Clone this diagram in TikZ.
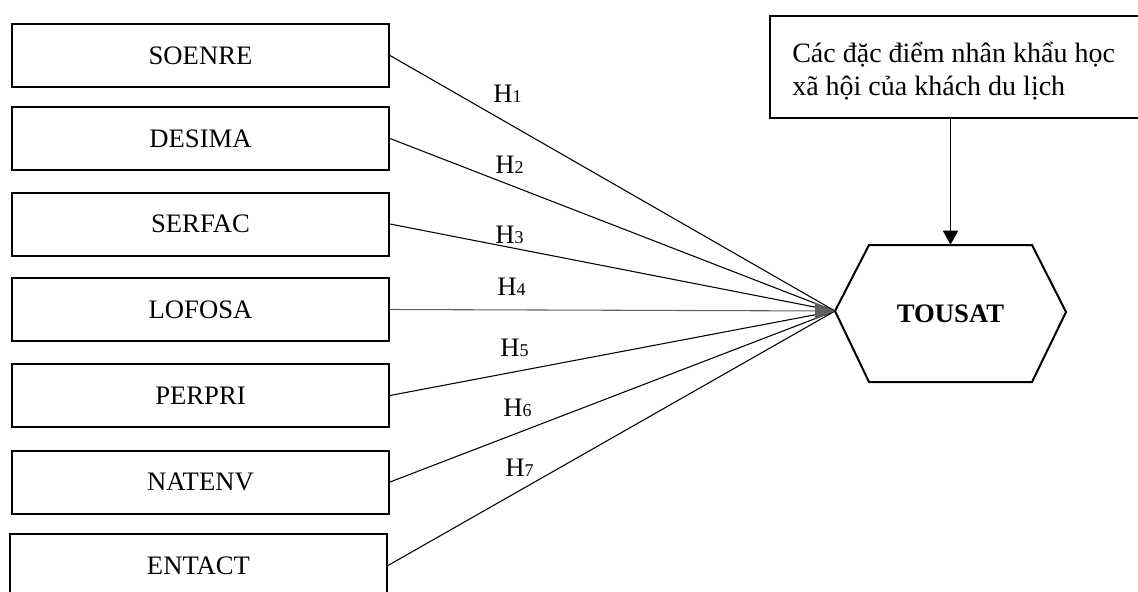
\documentclass[tikz,border=0pt]{standalone}
\usepackage{fontspec}
\setmainfont{Liberation Serif}
\usetikzlibrary{arrows.meta}
\definecolor{tipgray}{RGB}{95,95,95}
\tikzset{
  varbox/.style={draw, line width=1.5pt, minimum width=282.75pt, minimum height=47.25pt,
    inner sep=0pt, font=\fontsize{20pt}{24pt}\selectfont},
  conn/.style={line width=0.8pt},
  hlabel/.style={anchor=base west, inner sep=0pt, font=\fontsize{20pt}{24pt}\selectfont},
  demoline/.style={anchor=base west, inner sep=0pt, font=\fontsize{21pt}{24pt}\selectfont},
}
\newcommand{\hyp}[1]{H{\fontsize{13.5pt}{14pt}\selectfont #1}}
\begin{document}
\begin{tikzpicture}[x=0.75pt, y=-0.75pt]
\useasboundingbox (0,0) rectangle (1138,592);
\clip (0,0) rectangle (1138,592);
% left boxes
\node[varbox] (soenre) at (200.5,55.5) {SOENRE};
\node[varbox] (desima) at (200.5,138.5) {DESIMA};
\node[varbox] (serfac) at (200.5,224) {SERFAC};
\node[varbox] (lofosa) at (200.5,309.5) {LOFOSA};
\node[varbox] (perpri) at (200.5,395.5) {PERPRI};
\node[varbox] (natenv) at (200.5,482) {NATENV};
\node[varbox] (entact) at (198.5,565.5) {ENTACT};
% target
\node[inner sep=0pt, minimum width=173.25pt, minimum height=102.75pt,
      font=\fontsize{20pt}{24pt}\selectfont\bfseries] (tousat) at (950.5,313.5) {TOUSAT};
\coordinate (tip) at (835,311);
\draw[line width=1.5pt, line join=miter] (tip) -- (869,245) -- (1032,245) -- (1066,312) -- (1032,382) -- (869,382) -- cycle;
% demographic box
\node[draw, line width=1.5pt, anchor=north west, minimum height=76.5pt,
      minimum width=294pt, inner sep=0pt] (demo) at (769,15) {};
\node[demoline] (demo1) at (792,63) {Các đặc điểm nhân khẩu học};
\node[demoline] (demo2) at (792,95) {xã hội của khách du lịch};
% connectors
\draw[conn] (soenre.east) -- (tip);
\draw[conn] (desima.east) -- (tip);
\draw[conn] (serfac.east) -- (tip);
\draw[conn] (perpri.east) -- (tip);
\draw[conn] (natenv.east) -- (tip);
\draw[conn] (entact.east) -- (tip);
\draw[conn, draw=tipgray, -{Triangle[length=15pt, width=12pt, fill=tipgray]}] (lofosa.east) -- (tip);
\draw[conn, -{Triangle[length=10.5pt, width=11.25pt]}] (demo.south -| tousat.north) -- (tousat.north);
% labels
\node[hlabel] (h1) at (493,103) {\hyp{1}};
\node[hlabel] (h2) at (495,173) {\hyp{2}};
\node[hlabel] (h3) at (495,243) {\hyp{3}};
\node[hlabel] (h4) at (497,295) {\hyp{4}};
\node[hlabel] (h5) at (500,356) {\hyp{5}};
\node[hlabel] (h6) at (503,416) {\hyp{6}};
\node[hlabel] (h7) at (505,476) {\hyp{7}};
\end{tikzpicture}
\end{document}
